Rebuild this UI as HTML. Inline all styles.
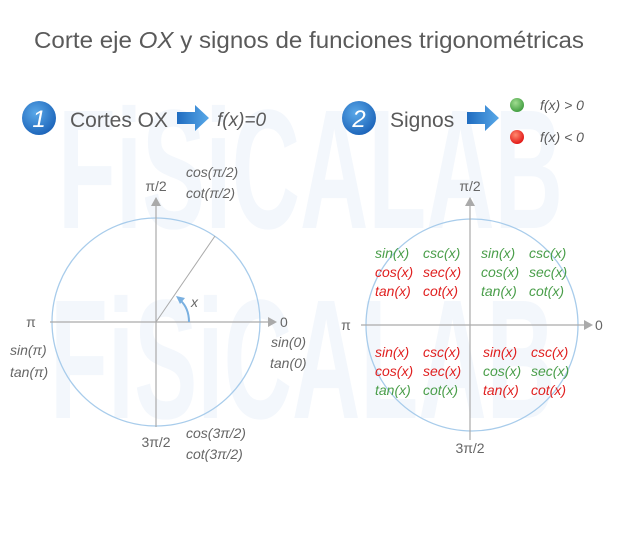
<!DOCTYPE html>
<html><head><meta charset="utf-8"><style>
body{margin:0;background:#fff}
svg text{font-family:"Liberation Sans",sans-serif}
.i{font-style:italic}
</style></head><body>
<svg width="620" height="528" viewBox="0 0 620 528" xmlns="http://www.w3.org/2000/svg">
<defs>
<radialGradient id="b" cx="0.4" cy="0.35" r="0.7"><stop offset="0" stop-color="#5aa8e8"/><stop offset="1" stop-color="#1a62b8"/></radialGradient>
<radialGradient id="g" cx="0.4" cy="0.35" r="0.7"><stop offset="0" stop-color="#a0dc90"/><stop offset="1" stop-color="#3c9a3c"/></radialGradient>
<radialGradient id="r" cx="0.4" cy="0.35" r="0.7"><stop offset="0" stop-color="#ff8a70"/><stop offset="1" stop-color="#e01010"/></radialGradient>
<linearGradient id="ar" x1="0" x2="1"><stop offset="0" stop-color="#1f6cc0"/><stop offset="1" stop-color="#58a8e8"/></linearGradient>
</defs>
<text x="58" y="228" font-size="170" font-weight="bold" fill="#f3f7fc" textLength="505" lengthAdjust="spacingAndGlyphs">FiSiCALAB</text>
<text x="50" y="418" font-size="170" font-weight="bold" fill="#f3f7fc" textLength="505" lengthAdjust="spacingAndGlyphs">FiSiCALAB</text>
<text x="34" y="48" font-size="23" fill="#5a5a5a" textLength="550" lengthAdjust="spacingAndGlyphs">Corte eje <tspan class="i">OX</tspan> y signos de funciones trigonométricas</text>
<circle cx="39" cy="118" r="17" fill="url(#b)"/>
<text x="39" y="127" font-size="24" fill="#fff" text-anchor="middle" class="i">1</text>
<text x="70" y="127" font-size="21" fill="#5a5a5a">Cortes OX</text>
<path d="M177 112h18v-7l14 13-14 13v-7h-18z" fill="url(#ar)"/>
<text x="217" y="126" font-size="19" fill="#5a5a5a" class="i">f(x)=0</text>
<circle cx="359" cy="118" r="17" fill="url(#b)"/>
<text x="359" y="127" font-size="24" fill="#fff" text-anchor="middle" class="i">2</text>
<text x="390" y="127" font-size="21" fill="#5a5a5a">Signos</text>
<path d="M467 112h18v-7l14 13-14 13v-7h-18z" fill="url(#ar)"/>
<circle cx="517" cy="105" r="7" fill="url(#g)"/>
<circle cx="517" cy="137" r="7" fill="url(#r)"/>
<text x="540" y="110" font-size="14" fill="#5a5a5a" class="i">f(x) &gt; 0</text>
<text x="540" y="142" font-size="14" fill="#5a5a5a" class="i">f(x) &lt; 0</text>

<circle cx="156" cy="322" r="104" fill="none" stroke="#a8cceb" stroke-width="1.3"/>
<line x1="50" y1="322" x2="268" y2="322" stroke="#aaa" stroke-width="1.2"/>
<path d="M268 317l9 5-9 5z" fill="#aaa"/>
<line x1="156" y1="427" x2="156" y2="206" stroke="#aaa" stroke-width="1.2"/>
<path d="M151 206l5-9 5 9z" fill="#aaa"/>
<line x1="156" y1="322" x2="215" y2="236" stroke="#aaa" stroke-width="1"/>
<path d="M189 322 Q189 308 180 300" fill="none" stroke="#7ab0e0" stroke-width="2"/>
<path d="M176 296l9 2-5 6z" fill="#7ab0e0"/>
<text x="191" y="307" font-size="14" fill="#666" class="i">x</text>
<text x="156" y="191" font-size="14" fill="#666" text-anchor="middle">π/2</text>
<text x="31" y="327" font-size="14" fill="#666" text-anchor="middle">π</text>
<text x="280" y="327" font-size="14" fill="#666">0</text>
<text x="156" y="447" font-size="14" fill="#666" text-anchor="middle">3π/2</text>
<g font-size="14" fill="#666" class="i">
<text x="186" y="177">cos(π/2)</text><text x="186" y="198">cot(π/2)</text>
<text x="10" y="355">sin(π)</text><text x="10" y="377">tan(π)</text>
<text x="271" y="347">sin(0)</text><text x="270" y="368">tan(0)</text>
<text x="186" y="438">cos(3π/2)</text><text x="186" y="459">cot(3π/2)</text>
</g>

<circle cx="472" cy="325" r="106" fill="none" stroke="#a8cceb" stroke-width="1.3"/>
<line x1="361" y1="325" x2="584" y2="325" stroke="#aaa" stroke-width="1.2"/>
<path d="M584 320l9 5-9 5z" fill="#aaa"/>
<line x1="470" y1="440" x2="470" y2="206" stroke="#aaa" stroke-width="1.2"/>
<path d="M465 206l5-9 5 9z" fill="#aaa"/>
<text x="470" y="191" font-size="14" fill="#666" text-anchor="middle">π/2</text>
<text x="346" y="330" font-size="14" fill="#666" text-anchor="middle">π</text>
<text x="595" y="330" font-size="14" fill="#666">0</text>
<text x="470" y="453" font-size="14" fill="#666" text-anchor="middle">3π/2</text>
<g font-size="14" class="i">
<text x="375" y="258" fill="#4a9e4a">sin(x)</text><text x="423" y="258" fill="#4a9e4a">csc(x)</text>
<text x="375" y="277" fill="#e02020">cos(x)</text><text x="423" y="277" fill="#e02020">sec(x)</text>
<text x="375" y="296" fill="#e02020">tan(x)</text><text x="423" y="296" fill="#e02020">cot(x)</text>
<text x="481" y="258" fill="#4a9e4a">sin(x)</text><text x="529" y="258" fill="#4a9e4a">csc(x)</text>
<text x="481" y="277" fill="#4a9e4a">cos(x)</text><text x="529" y="277" fill="#4a9e4a">sec(x)</text>
<text x="481" y="296" fill="#4a9e4a">tan(x)</text><text x="529" y="296" fill="#4a9e4a">cot(x)</text>
<text x="375" y="357" fill="#e02020">sin(x)</text><text x="423" y="357" fill="#e02020">csc(x)</text>
<text x="375" y="376" fill="#e02020">cos(x)</text><text x="423" y="376" fill="#e02020">sec(x)</text>
<text x="375" y="395" fill="#4a9e4a">tan(x)</text><text x="423" y="395" fill="#4a9e4a">cot(x)</text>
<text x="483" y="357" fill="#e02020">sin(x)</text><text x="531" y="357" fill="#e02020">csc(x)</text>
<text x="483" y="376" fill="#4a9e4a">cos(x)</text><text x="531" y="376" fill="#4a9e4a">sec(x)</text>
<text x="483" y="395" fill="#e02020">tan(x)</text><text x="531" y="395" fill="#e02020">cot(x)</text>
</g>
</svg>
</body></html>
